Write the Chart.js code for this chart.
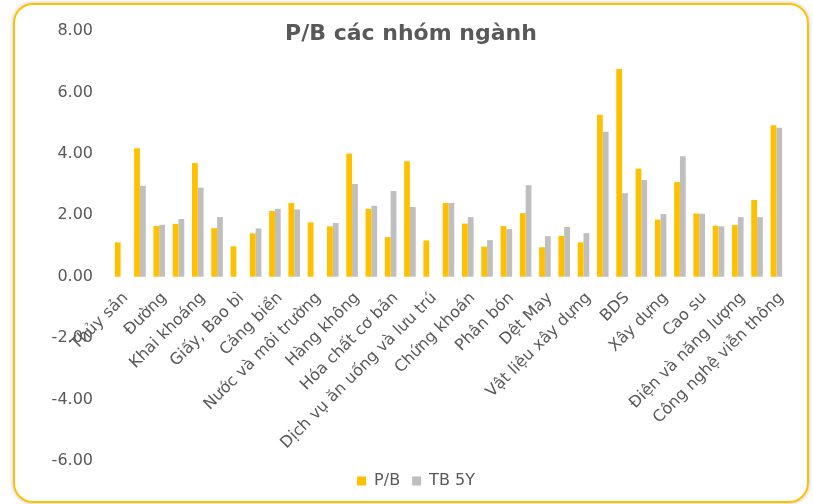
<!DOCTYPE html>
<html>
<head>
<meta charset="utf-8">
<script src="https://cdn.jsdelivr.net/npm/chart.js@4.4.1/dist/chart.umd.min.js"></script>
<style>
  html, body { margin: 0; padding: 0; background: #fff; }
  #wrap { position: relative; width: 813px; height: 504px; overflow: hidden; }
  #card {
    position: absolute; left: 13px; top: 3px; width: 792px; height: 496px;
    border: 2px solid #ffc000; border-radius: 20px;
    box-shadow: 0 0 4px rgba(0,0,0,0.25);
  }
  #title {
    position: absolute; left: 0; width: 822px; top: 20px; text-align: center;
    font: bold 22px "DejaVu Sans", sans-serif; color: #595959;
  }
  canvas { position: absolute; left: 0; top: 0; }
</style>
</head>
<body>
<div id="wrap">
  <div id="card"></div>
  <canvas id="chart" width="813" height="504"></canvas>
  <div id="title">P/B các nhóm ngành</div>
</div>
<script>
// categories (only every other name is printed on the axis; hidden ones left blank)
const sectors = [
  "Thủy sản", "", "Đường", "", "Khai khoáng", "", "Giấy, Bao bì", "",
  "Cảng biển", "", "Nước và môi trường", "", "Hàng không", "",
  "Hóa chất cơ bản", "", "Dịch vụ ăn uống và lưu trú", "", "Chứng khoán", "",
  "Phân bón", "", "Dệt May", "", "Vật liệu xây dựng", "", "BDS", "",
  "Xây dựng", "", "Cao su", "", "Điện và năng lượng", "", "Công nghệ viễn thông",
];

const pb = [
  1.12, 4.18, 1.65, 1.72, 3.70, 1.58, 0.99, 1.41, 2.14, 2.40,
  1.77, 1.64, 4.01, 2.21, 1.29, 3.76, 1.18, 2.40, 1.73, 0.98,
  1.65, 2.07, 0.96, 1.33, 1.12, 5.27, 6.76, 3.52, 1.86, 3.08,
  2.06, 1.66, 1.68, 2.50, 4.93,
];

const tb5y = [
  null, 2.96, 1.69, 1.88, 2.90, 1.94, null, 1.57, 2.21, 2.19,
  null, 1.75, 3.02, 2.31, 2.79, 2.27, null, 2.40, 1.94, 1.19,
  1.55, 2.98, 1.32, 1.62, 1.42, 4.72, 2.72, 3.15, 2.04, 3.92,
  2.05, 1.64, 1.94, 1.94, 4.85,
];

const yTicks = [-6, -4, -2, 0, 2, 4, 6, 8];

const C_YELLOW = "#ffc000";
const C_GRAY = "#bfbfbf";
const txtCol = "#595959";

Chart.defaults.font.family = "'DejaVu Sans', sans-serif";
Chart.defaults.font.size = 16;
Chart.defaults.color = txtCol;

new Chart(document.getElementById("chart"), {
  type: "bar",
  data: {
    labels: sectors,
    datasets: [
      { label: "P/B", data: pb, backgroundColor: C_YELLOW,
        categoryPercentage: 0.6, barPercentage: 1.0 },
      { label: "TB 5Y", data: tb5y, backgroundColor: C_GRAY,
        categoryPercentage: 0.6, barPercentage: 1.0 },
    ],
  },
  options: {
    responsive: false,
    animation: false,
    layout: { padding: { left: 46, right: 27, top: 31, bottom: 5 } },
    plugins: {
      title: { display: false },
      tooltip: { enabled: false },
      legend: {
        position: "bottom",
        labels: { boxWidth: 9, boxHeight: 9, padding: 12, font: { size: 16 } },
      },
    },
    scales: {
      x: {
        position: { y: 0 },
        grid: { display: false, drawTicks: false },
        border: { display: false },
        ticks: {
          autoSkip: false, minRotation: 45, maxRotation: 45,
          padding: 12, labelOffset: 5,
          font: { size: 16 },
        },
        afterFit: (s) => { s.height = 0; },
      },
      y: {
        min: yTicks[0],
        max: yTicks[yTicks.length - 1],
        grid: { display: false, drawTicks: false },
        border: { display: false },
        afterBuildTicks: (s) => { s.ticks = yTicks.map((v) => ({ value: v })); },
        afterFit: (s) => { s.width = 65; },
        ticks: {
          padding: 18,
          font: { size: 16 },
          callback: (v) => Number(v).toFixed(2),
        },
      },
    },
  },
});
</script>
</body>
</html>
